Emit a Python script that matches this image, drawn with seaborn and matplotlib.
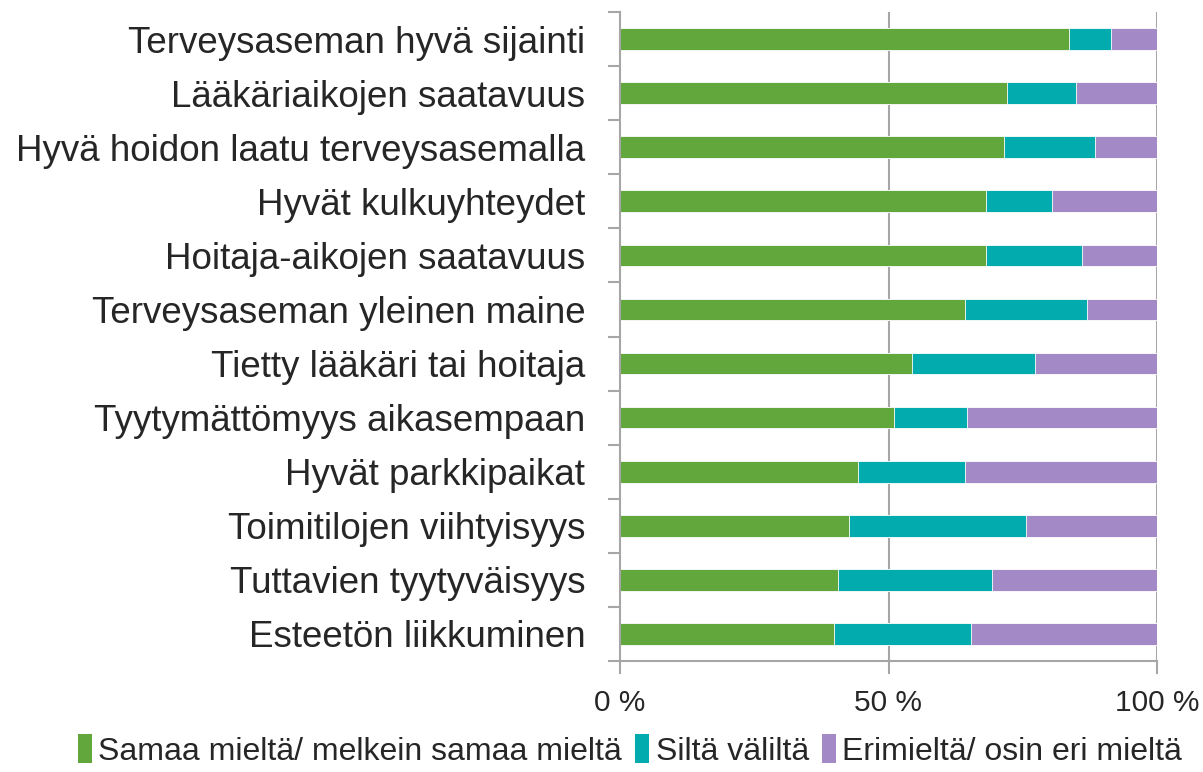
import numpy as np
import pandas as pd
import matplotlib.pyplot as plt
import seaborn as sns
from matplotlib.patches import Patch
from matplotlib.ticker import FixedLocator

sns.set_theme(style="white")
plt.rcParams["font.family"] = ["Liberation Sans", "DejaVu Sans"]

# -----------------------------
# Data (percent shares)
# -----------------------------
categories = [
    "Terveysaseman hyvä sijainti",
    "Lääkäriaikojen saatavuus",
    "Hyvä hoidon laatu terveysasemalla",
    "Hyvät kulkuyhteydet",
    "Hoitaja-aikojen saatavuus",
    "Terveysaseman yleinen maine",
    "Tietty lääkäri tai hoitaja",
    "Tyytymättömyys aikasempaan",
    "Hyvät parkkipaikat",
    "Toimitilojen viihtyisyys",
    "Tuttavien tyytyväisyys",
    "Esteetön liikkuminen",
]
agree = [83.7, 72.0, 71.5, 68.2, 68.1, 64.2, 54.3, 51.1, 44.4, 42.6, 40.6, 39.9]
neutral = [7.7, 12.9, 16.9, 12.2, 18.0, 22.7, 23.0, 13.6, 19.9, 33.0, 28.7, 25.5]
disagree = [8.6, 15.1, 11.6, 19.6, 13.9, 13.1, 22.7, 35.3, 35.7, 24.4, 30.7, 34.6]

series_names = ["Samaa mieltä/ melkein samaa mieltä", "Siltä väliltä", "Erimieltä/ osin eri mieltä"]
colors = ["#62A73B", "#02ACAE", "#A38AC7"]
xtick_labels = ["0 %", "50 %", "100 %"]

df = pd.DataFrame({"cat": categories, "agree": agree, "neutral": neutral, "disagree": disagree})
df["c1"] = df["agree"]
df["c2"] = df["agree"] + df["neutral"]
df["c3"] = df["c2"] + df["disagree"]

fig = plt.figure(figsize=(12.03, 7.72), dpi=100)
ax = fig.add_axes([620 / 1203, 1 - 661 / 772, (1157 - 620) / 1203, (661 - 12) / 772])

# stacked bars: draw cumulative totals back to front
for col, c in zip(["c3", "c2", "c1"], colors[::-1]):
    sns.barplot(data=df, x=col, y="cat", order=categories, color=c, width=0.4,
                orient="h", saturation=1, edgecolor="white", linewidth=0.6, ax=ax)

ax.set_xlim(0, 100)
ax.set_ylim(len(categories) - 0.5, -0.5)
ax.set_xlabel("")
ax.set_ylabel("")

grid_c = "#A6A6A6"
ax.set_xticks([0, 50, 100])
ax.set_xticklabels(xtick_labels)
for x in [50, 100]:
    ax.axvline(x, color=grid_c, lw=1.5, zorder=0)

ax.yaxis.set_minor_locator(FixedLocator(np.arange(-0.5, len(categories), 1.0)))
ax.tick_params(axis="y", which="major", length=0, pad=25, labelsize=26.5, labelcolor="#262626")
ax.tick_params(axis="y", which="minor", length=9, width=1.5, color=grid_c, left=True)
ax.tick_params(axis="x", which="major", length=9, width=1.5, color=grid_c, bottom=True,
               labelsize=21.5, labelcolor="#262626", pad=11)

for side in ["top", "right"]:
    ax.spines[side].set_visible(False)
for side in ["left", "bottom"]:
    ax.spines[side].set_color(grid_c)
    ax.spines[side].set_linewidth(1.5)

handles = [Patch(facecolor=c, edgecolor="none") for c in colors]
fig.legend(handles, series_names, loc="center", bbox_to_anchor=(630 / 1203, 0.028), ncol=3,
           frameon=False, fontsize=23, handlelength=0.45, handleheight=1.0, handletextpad=0.2,
           columnspacing=0.4, labelcolor="#262626")

fig.savefig("out.png", dpi=100)
